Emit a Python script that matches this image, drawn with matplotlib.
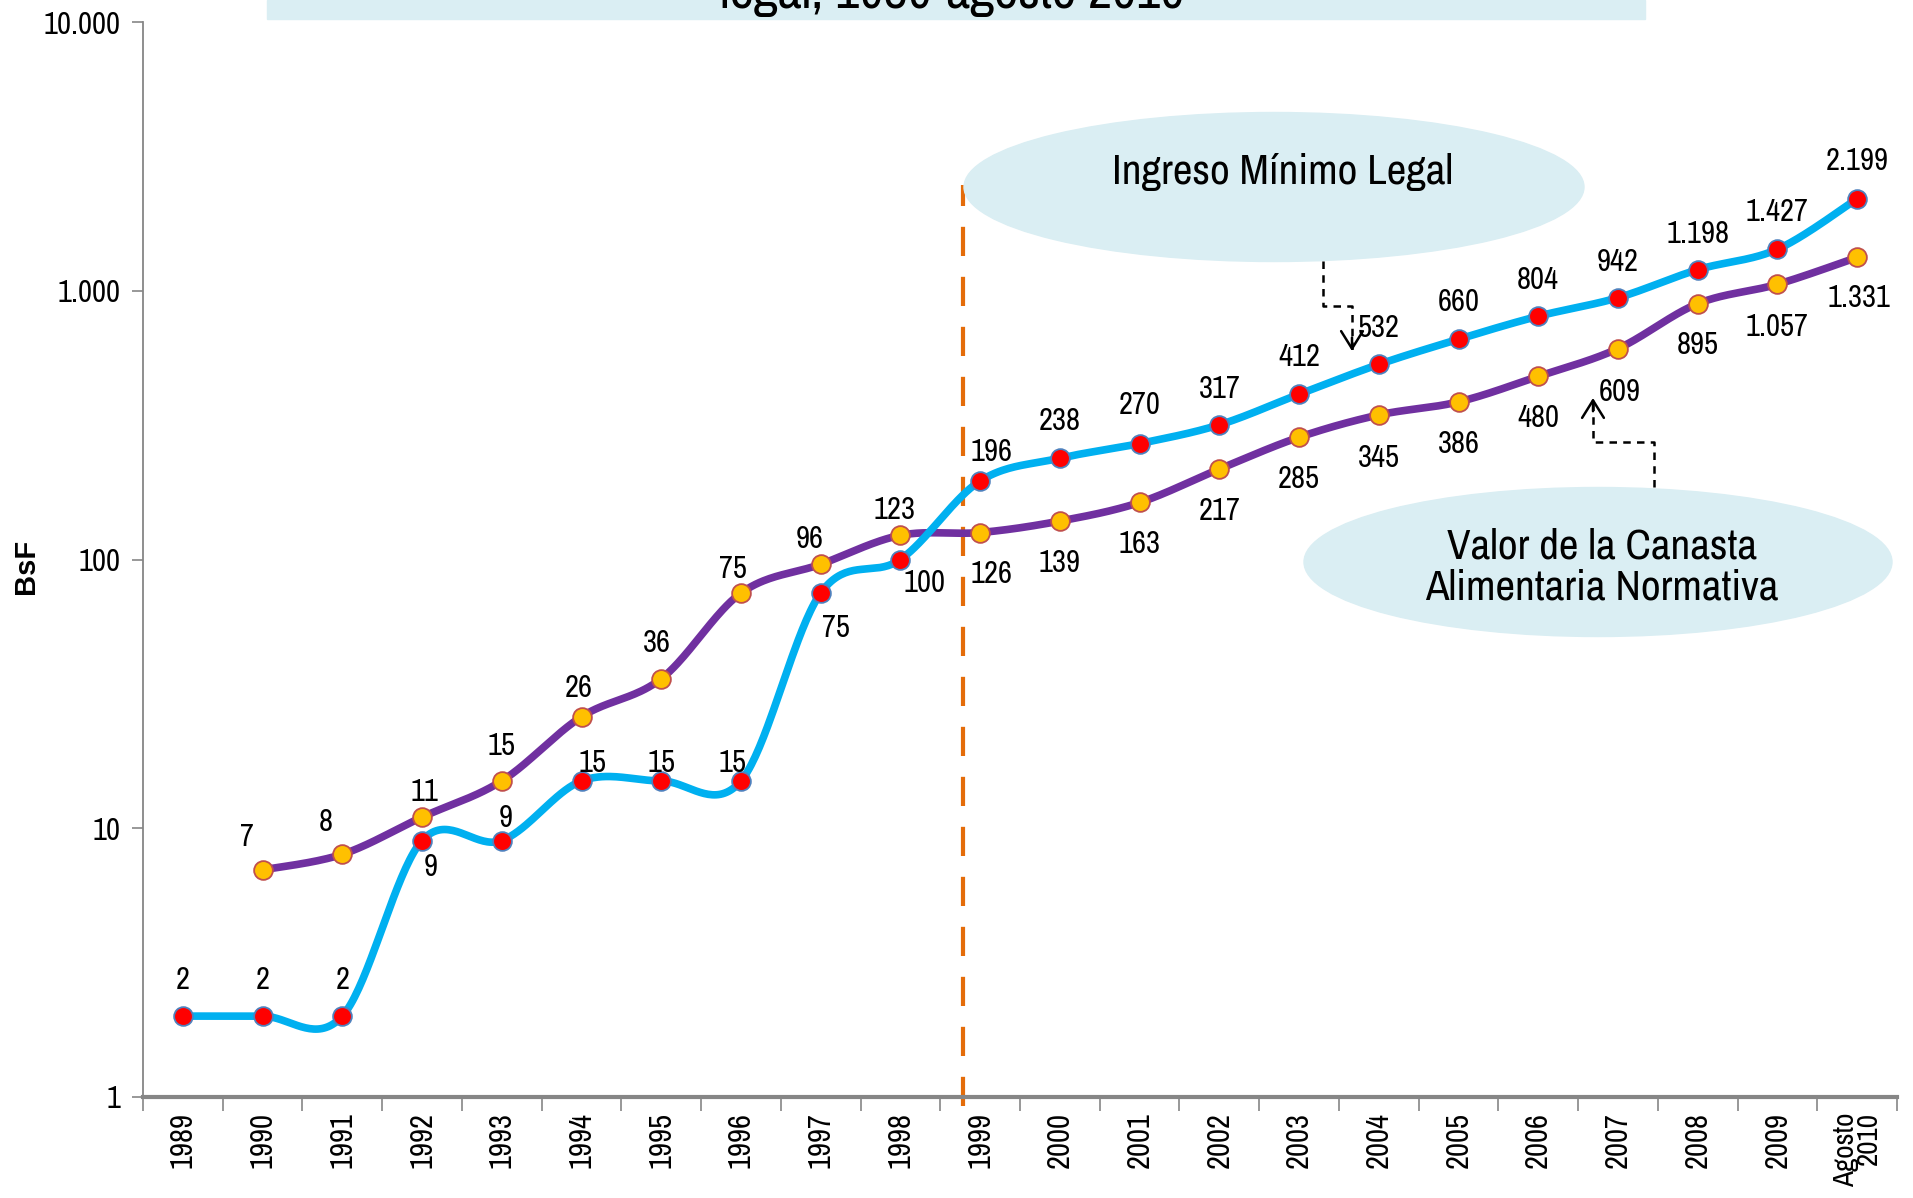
import numpy as np
import matplotlib
matplotlib.use("Agg")
import matplotlib.pyplot as plt
from matplotlib.patches import Ellipse, Rectangle
from matplotlib.lines import Line2D

plt.rcParams['font.family'] = ['Archivo Narrow', 'PT Sans Narrow', 'DejaVu Sans']

# Datos
categorias = ['1989', '1990', '1991', '1992', '1993', '1994', '1995', '1996', '1997', '1998',
              '1999', '2000', '2001', '2002', '2003', '2004', '2005', '2006', '2007', '2008',
              '2009', 'Agosto\n2010']
ingreso = [2, 2, 2, 9, 9, 15, 15, 15, 75, 100, 196, 238, 270, 317, 412, 532, 660, 804, 942,
           1198, 1427, 2199]
canasta = [None, 7, 8, 11, 15, 26, 36, 75, 96, 123, 126, 139, 163, 217, 285, 345, 386, 480,
           609, 895, 1057, 1331]
ytick_vals = [1, 10, 100, 1000, 10000]
ytick_txt = ['1', '10', '100', '1.000', '10.000']

# desplazamiento de etiquetas (puntos)
off_ing = [(0, 26), (0, 26), (0, 26), (6, -19), (3, 16), (8, 13), (0, 13), (-6, 13),
           (11, -25), (17, -17), (8, 21), (0, 27), (0, 28), (0, 26), (0, 27), (0, 26),
           (0, 27), (0, 26), (0, 26), (0, 26), (0, 27), (0, 27)]
off_can = [None, (-11, 24), (-12, 23), (2, 18), (0, 25), (-2, 21), (-3, 26), (-6, 17),
           (-8, 18), (-4, 18), (8, -30), (0, -30), (0, -30), (0, -30), (0, -30), (0, -31),
           (0, -30), (0, -30), (1, -31), (0, -30), (0, -31), (1, -29)]

AZUL = '#00B0F0'
MORADO = '#7030A0'
CELESTE = '#DAEEF3'

W, H = 1913, 1198


def fx(px):
    return px / W


def fy(py):
    return 1 - py / H


def fmt(v):
    return f'{v:,}'.replace(',', '.')


def suavizar(xs, ys, n=40):
    # curva suavizada tipo Excel en escala log
    p = np.column_stack([xs, np.log10(ys)])
    out = []
    for i in range(len(p) - 1):
        p0 = p[max(i - 1, 0)]
        p1 = p[i]
        p2 = p[i + 1]
        p3 = p[min(i + 2, len(p) - 1)]
        c1 = p1 + (p2 - p0) / 6
        c2 = p2 - (p3 - p1) / 6
        t = np.linspace(0, 1, n)[:, None]
        seg = ((1 - t) ** 3) * p1 + 3 * ((1 - t) ** 2) * t * c1 + 3 * (1 - t) * t ** 2 * c2 + t ** 3 * p2
        out.append(seg)
    out = np.vstack(out)
    return out[:, 0], 10 ** out[:, 1]


fig = plt.figure(figsize=(W / 100, H / 100), dpi=100)
ax = fig.add_axes([fx(143), fy(1097), fx(1897) - fx(143), fy(22) - fy(1097)])

x = np.arange(len(categorias))
xi, yi = suavizar(x, ingreso)
xc_idx = [i for i, v in enumerate(canasta) if v is not None]
cv = [canasta[i] for i in xc_idx]
xc, yc = suavizar(np.array(xc_idx, float), cv)

ax.plot(xc, yc, color=MORADO, lw=5.5, solid_capstyle='round', zorder=3)
ax.plot(xi, yi, color=AZUL, lw=5.5, solid_capstyle='round', zorder=3)
ax.plot(xc_idx, cv, 'o', ms=13.5, mfc='#FFC000', mec='#C0504D', mew=1.3, zorder=4)
ax.plot(x, ingreso, 'o', ms=13.5, mfc='#FF0000', mec='#4F81BD', mew=1.3, zorder=4)

# etiquetas de datos
for i, v in enumerate(ingreso):
    ax.annotate(fmt(v), (i, v), xytext=off_ing[i], textcoords='offset points',
                ha='center', va='center', fontsize=22, zorder=5)
for i, v in zip(xc_idx, cv):
    ax.annotate(fmt(v), (i, v), xytext=off_can[i], textcoords='offset points',
                ha='center', va='center', fontsize=22, zorder=5)

ax.set_yscale('log')
ax.set_ylim(1, 10000)
ax.set_xlim(-0.5, len(categorias) - 0.5)
ax.set_yticks(ytick_vals)
ax.set_yticklabels(ytick_txt)
ax.yaxis.set_minor_locator(matplotlib.ticker.NullLocator())
ax.set_xticks(x)
ax.set_xticklabels(categorias, rotation=90, va='top', ha='center', linespacing=0.8,
                   multialignment='right')
ax.set_xticks(np.arange(len(categorias) + 1) - 0.5, minor=True)
ax.tick_params(axis='x', which='major', length=0, pad=11, labelsize=22)
ax.tick_params(axis='x', which='minor', length=10, width=1.2, color='#868686')
ax.tick_params(axis='y', which='major', length=8, width=1.2, color='#868686', pad=8,
               labelsize=22)
ax.get_xticklabels()[-1].set_fontsize(21)
for s in ('top', 'right'):
    ax.spines[s].set_visible(False)
ax.spines['left'].set_color('#868686')
ax.spines['bottom'].set_color('#868686')
ax.spines['left'].set_linewidth(1.3)
ax.spines['bottom'].set_linewidth(3)
ax.set_ylabel('BsF', fontsize=21, fontweight='bold', family=['Liberation Sans', 'DejaVu Sans'],
              va='center')
ax.yaxis.set_label_coords((26 - 143) / (1897 - 143), 0.494)

# linea vertical 1999
ax.axvline(9.78, ymin=-0.008, ymax=0.848, color='#E46C0A', lw=3, dashes=(7, 5),
           clip_on=False, zorder=2)

# titulo cortado
fig.patches.append(Rectangle((fx(267), fy(19)), fx(1645) - fx(267), fy(0) - fy(19),
                             transform=fig.transFigure, color=CELESTE, zorder=0))
fig.text(fx(952), fy(8), 'legal, 1989-agosto 2010', ha='center', va='baseline',
         fontsize=38)

# globos
fig.patches.append(Ellipse((fx(1274), fy(187)), fx(620), fx(149) * W / H,
                           transform=fig.transFigure, color=CELESTE, zorder=1))
fig.patches.append(Ellipse((fx(1598), fy(562)), fx(588), fx(149) * W / H,
                           transform=fig.transFigure, color=CELESTE, zorder=1))
fig.text(fx(1283), fy(172), 'Ingreso Mínimo Legal', ha='center', va='center',
         fontsize=31)
fig.text(fx(1602), fy(567), 'Valor de la Canasta\nAlimentaria Normativa', ha='center',
         va='center', fontsize=31, linespacing=1.1)

# conectores
for pts in ([(1323, 261), (1323, 306), (1352, 306), (1352, 351)],
            [(1654, 487), (1654, 442), (1593, 442), (1593, 398)]):
    xs = [fx(p[0]) for p in pts]
    ys = [fy(p[1]) for p in pts]
    fig.lines.append(Line2D(xs, ys, transform=fig.transFigure, color='black',
                            lw=1.8, dashes=(3, 2.5)))
    fig.add_artist(matplotlib.patches.FancyArrowPatch(
        (xs[-1], ys[-1] + (ys[-2] - ys[-1]) * 0.3), (xs[-1], ys[-1]),
        transform=fig.transFigure, arrowstyle='->,head_length=0.45,head_width=0.28',
        mutation_scale=28, color='black', lw=1.8, shrinkA=0, shrinkB=0))

fig.savefig('out.png', dpi=100)
